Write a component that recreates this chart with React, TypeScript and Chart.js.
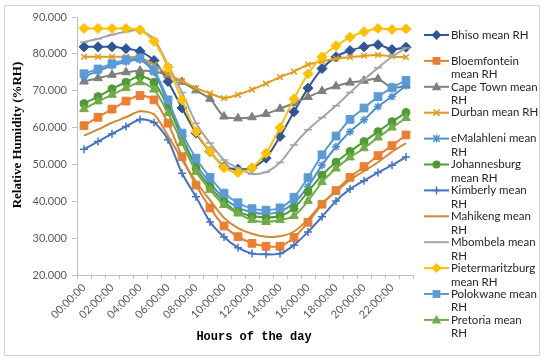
import React, { useEffect, useRef } from 'react';
import { Chart, registerables } from 'chart.js';

Chart.register(...registerables);

const hours = ['00:00:00', '01:00:00', '02:00:00', '03:00:00', '04:00:00', '05:00:00', '06:00:00', '07:00:00',
  '08:00:00', '09:00:00', '10:00:00', '11:00:00', '12:00:00', '13:00:00', '14:00:00', '15:00:00',
  '16:00:00', '17:00:00', '18:00:00', '19:00:00', '20:00:00', '21:00:00', '22:00:00', '23:00:00'];

const bhiso = [81.9, 81.9, 81.9, 81.4, 80.7, 78.2, 72.5, 65.3, 58.5, 53.5, 49.4, 48.7, 49.0, 51.7, 57.6, 64.3, 70.7, 76.0, 79.2, 80.9, 81.9, 82.5, 81.2, 81.8];
const bloemfontein = [60.5, 62.8, 65.0, 67.2, 68.7, 67.5, 61.2, 52.1, 44.4, 38.2, 33.3, 30.4, 28.6, 27.8, 27.8, 30.2, 34.3, 39.2, 42.9, 46.5, 49.4, 52.4, 55.1, 58.0];
const capeTown = [72.5, 73.4, 74.3, 75.0, 75.4, 75.3, 74.2, 72.4, 70.1, 67.8, 63.0, 62.5, 62.8, 63.7, 65.1, 66.6, 68.3, 69.9, 71.2, 72.2, 72.7, 73.2, 70.8, 71.4];
const durban = [79.2, 79.2, 79.2, 79.2, 79.0, 77.0, 74.5, 72.6, 70.7, 69.3, 68.0, 68.9, 70.3, 71.9, 73.7, 75.2, 77.1, 78.0, 78.7, 79.1, 79.5, 79.7, 79.3, 79.1];
const eMalahleni = [73.8, 75.3, 76.8, 77.8, 78.4, 75.0, 66.5, 57.0, 50.0, 45.0, 40.8, 38.3, 37.0, 36.6, 37.2, 39.6, 44.0, 49.8, 54.8, 58.9, 62.1, 65.7, 68.4, 71.4];
const johannesburg = [66.5, 68.4, 70.5, 72.3, 73.9, 72.3, 65.7, 57.6, 49.0, 43.9, 39.9, 37.1, 36.0, 35.6, 36.0, 38.1, 42.6, 47.1, 50.6, 53.5, 56.2, 58.9, 61.6, 64.1];
const kimberly = [54.1, 56.2, 58.3, 60.3, 62.2, 61.4, 56.7, 47.6, 41.2, 34.4, 30.3, 27.4, 25.8, 25.6, 25.8, 28.1, 31.7, 35.8, 40.1, 43.3, 45.6, 47.8, 49.8, 52.0];
const mahikeng = [57.8, 59.5, 61.3, 62.8, 64.4, 63.6, 57.8, 51.3, 45.3, 40.3, 35.5, 32.7, 31.2, 30.4, 30.5, 31.8, 35.1, 39.4, 42.6, 45.8, 48.2, 50.6, 53.4, 55.8];
const mbombela = [83.2, 84.1, 85.2, 86.0, 86.4, 84.0, 77.0, 69.5, 61.2, 55.8, 51.2, 49.0, 47.4, 47.9, 50.5, 55.3, 59.4, 62.7, 65.9, 69.5, 73.0, 76.2, 79.2, 81.6];
const pietermaritzburg = [86.9, 86.9, 86.9, 86.9, 86.5, 83.4, 76.4, 67.5, 58.9, 53.5, 49.1, 47.8, 49.1, 53.0, 60.0, 67.8, 74.6, 79.2, 82.2, 84.5, 86.0, 86.9, 86.6, 86.8];
const polokwane = [74.6, 75.9, 77.3, 78.4, 78.9, 75.7, 67.5, 58.5, 51.7, 46.5, 42.2, 39.6, 38.0, 37.6, 38.2, 41.1, 46.4, 52.6, 57.7, 62.2, 65.3, 68.4, 70.8, 72.8];
const pretoria = [65.0, 67.1, 68.9, 70.7, 72.3, 70.3, 63.9, 55.8, 48.0, 43.1, 39.0, 36.7, 34.9, 34.4, 34.9, 36.0, 40.1, 45.2, 48.9, 51.9, 54.4, 57.3, 60.0, 62.6];

const seriesNames = ['Bhiso mean RH', 'Bloemfontein mean RH', 'Cape Town mean RH', 'Durban mean RH', 'eMalahleni mean RH',
  'Johannesburg mean RH', 'Kimberly mean RH', 'Mahikeng mean RH', 'Mbombela mean RH', 'Pietermaritzburg mean RH',
  'Polokwane mean RH', 'Pretoria mean RH'];
const legendLines = [
  ['Bhiso mean RH'],
  ['Bloemfontein', 'mean RH'],
  ['Cape Town mean', 'RH'],
  ['Durban mean RH'],
  ['eMalahleni mean', 'RH'],
  ['Johannesburg', 'mean RH'],
  ['Kimberly mean', 'RH'],
  ['Mahikeng mean', 'RH'],
  ['Mbombela mean', 'RH'],
  ['Pietermaritzburg', 'mean RH'],
  ['Polokwane mean', 'RH'],
  ['Pretoria mean', 'RH'],
];
const seriesData = [bhiso, bloemfontein, capeTown, durban, eMalahleni, johannesburg, kimberly, mahikeng, mbombela, pietermaritzburg, polokwane, pretoria];
const colors = ['#2F5597', '#ED7D31', '#7F7F7F', '#E29B1C', '#4A90D0', '#4F9A32', '#4472C4', '#D08A30', '#A5A5A5', '#FFC000', '#5B9BD5', '#70AD47'];
const markers = ['rectRot', 'rect', 'triangle', 'crossRot', 'star', 'circle', 'cross', 'none', 'line', 'rectRot', 'rect', 'triangle'];
const radii = [5, 5.5, 5, 4, 4, 4, 4, 0, 4, 5, 5.5, 5];

function drawMarker(ctx: CanvasRenderingContext2D, style: string, x: number, y: number, r: number, color: string) {
  ctx.save();
  ctx.fillStyle = color;
  ctx.strokeStyle = color;
  ctx.lineWidth = 1.5;
  ctx.beginPath();
  if (style === 'rectRot') {
    ctx.moveTo(x, y - r); ctx.lineTo(x + r, y); ctx.lineTo(x, y + r); ctx.lineTo(x - r, y); ctx.closePath(); ctx.fill();
  } else if (style === 'rect') {
    const s = r * Math.SQRT1_2; ctx.rect(x - s, y - s, 2 * s, 2 * s); ctx.fill();
  } else if (style === 'triangle') {
    ctx.moveTo(x, y - r); ctx.lineTo(x + r * 0.95, y + r * 0.7); ctx.lineTo(x - r * 0.95, y + r * 0.7); ctx.closePath(); ctx.fill();
  } else if (style === 'circle') {
    ctx.arc(x, y, r, 0, Math.PI * 2); ctx.fill();
  } else if (style === 'crossRot') {
    const s = r * 0.8; ctx.moveTo(x - s, y - s); ctx.lineTo(x + s, y + s); ctx.moveTo(x + s, y - s); ctx.lineTo(x - s, y + s); ctx.stroke();
  } else if (style === 'cross') {
    ctx.moveTo(x - r, y); ctx.lineTo(x + r, y); ctx.moveTo(x, y - r); ctx.lineTo(x, y + r); ctx.stroke();
  } else if (style === 'star') {
    const s = r * 0.8; ctx.moveTo(x - s, y - s); ctx.lineTo(x + s, y + s); ctx.moveTo(x + s, y - s); ctx.lineTo(x - s, y + s);
    ctx.moveTo(x, y - r); ctx.lineTo(x, y + r); ctx.stroke();
  } else if (style === 'line') {
    ctx.moveTo(x - r, y); ctx.lineTo(x + r, y); ctx.stroke();
  }
  ctx.restore();
}

const decorPlugin = {
  id: 'decor',
  beforeDraw(chart: any) {
    const ctx = chart.ctx as CanvasRenderingContext2D;
    ctx.save();
    ctx.fillStyle = '#FFFFFF';
    ctx.fillRect(0, 0, chart.width, chart.height);
    ctx.strokeStyle = '#D0D0D0';
    ctx.lineWidth = 1;
    ctx.strokeRect(4.5, 5.5, 535, 350);
    ctx.restore();
  },
  afterDraw(chart: any) {
    const ctx = chart.ctx as CanvasRenderingContext2D;
    ctx.save();
    ctx.fillStyle = '#000000';
    ctx.textAlign = 'center';
    ctx.textBaseline = 'middle';
    ctx.font = 'bold 12px "Liberation Mono", monospace';
    ctx.fillText('Hours of the day', 254, 337);
    ctx.save();
    ctx.translate(18, 135);
    ctx.rotate(-Math.PI / 2);
    ctx.font = 'bold 13px "Liberation Serif", serif';
    ctx.fillText('Relative Humidity (%RH)', 0, 0);
    ctx.restore();
    ctx.textAlign = 'left';
    legendLines.forEach((lines, i) => {
      const y = 35 + 25.9 * i;
      ctx.strokeStyle = colors[i];
      ctx.lineWidth = 2;
      ctx.beginPath();
      ctx.moveTo(424, y);
      ctx.lineTo(449, y);
      ctx.stroke();
      drawMarker(ctx, markers[i], 436.5, y, radii[i], colors[i]);
      ctx.fillStyle = '#262626';
      ctx.font = '11.5px Lato, sans-serif';
      lines.forEach((t, k) => ctx.fillText(t, 451, y + k * 13.7));
    });
    ctx.restore();
  },
};

export default function App() {
  const ref = useRef<HTMLCanvasElement>(null);
  useEffect(() => {
    document.body.style.margin = '0';
    const canvas = ref.current!;
    const datasets = seriesNames.map((name, i) => ({
      label: name,
      data: seriesData[i],
      borderColor: colors[i],
      backgroundColor: colors[i],
      borderWidth: 2,
      tension: 0.25,
      pointStyle: markers[i] === 'none' ? 'circle' : markers[i],
      pointRadius: radii[i],
      pointBorderWidth: ['crossRot', 'cross', 'star', 'line'].includes(markers[i]) ? 1.5 : 1,
      pointBackgroundColor: colors[i],
      pointBorderColor: colors[i],
      order: 12 - i,
    }));
    const chart = new Chart(canvas, {
      type: 'line',
      data: { labels: hours, datasets },
      options: {
        responsive: false,
        animation: false,
        layout: { padding: { left: 0, right: 137, top: 17, bottom: 0 } },
        plugins: { legend: { display: false }, tooltip: { enabled: false } },
        scales: {
          x: {
            type: 'category',
            offset: true,
            grid: { offset: true, drawOnChartArea: false, drawTicks: true, tickLength: 4, color: '#BFBFBF' },
            border: { display: true, color: '#BFBFBF' },
            ticks: {
              autoSkip: false,
              minRotation: 45,
              maxRotation: 45,
              padding: 2,
              color: '#595959',
              font: { family: 'Lato', size: 11 },
              callback: (_v: any, i: number) => (i % 2 === 0 ? hours[i] : ''),
            },
            afterFit: (s: any) => { s.height = 87; },
          },
          y: {
            min: 20,
            max: 90,
            grid: { drawOnChartArea: false, tickLength: 5, color: '#BFBFBF' },
            border: { display: true, color: '#BFBFBF' },
            ticks: {
              stepSize: 10,
              padding: 5,
              color: '#595959',
              font: { family: 'Lato', size: 11 },
              callback: (v: any) => Number(v).toFixed(3),
            },
            afterFit: (s: any) => { s.width = 77; },
          },
        },
      },
      plugins: [decorPlugin],
    });
    return () => chart.destroy();
  }, []);
  return <canvas ref={ref} width={550} height={362} style={{ display: 'block' }} />;
}
